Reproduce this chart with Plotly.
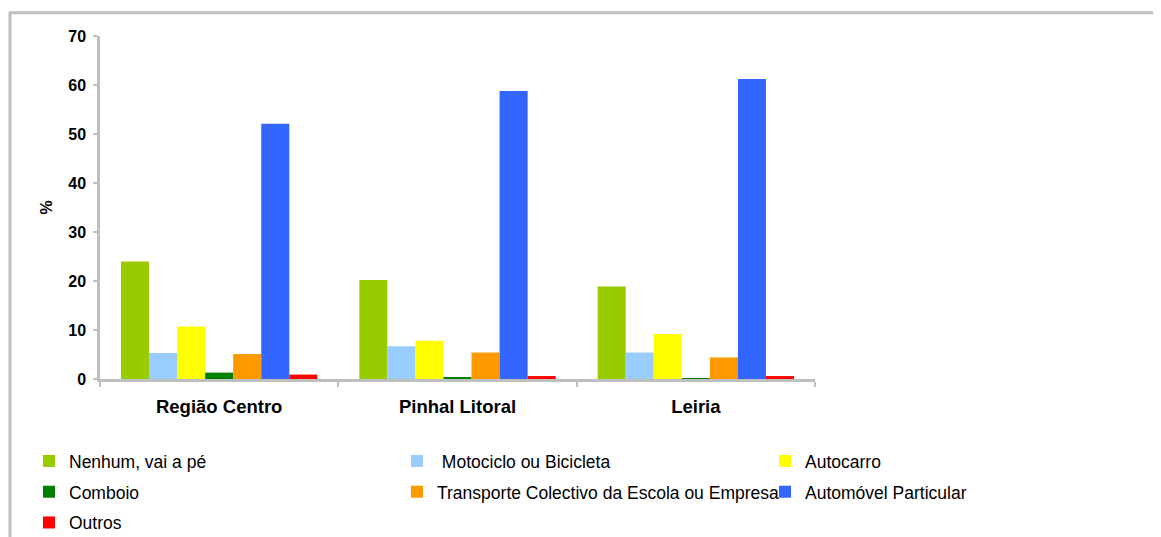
import plotly.graph_objects as go

categories = ["Região Centro", "Pinhal Litoral", "Leiria"]
series_names = [
    "Nenhum, vai a pé",
    " Motociclo ou Bicicleta",
    "Autocarro",
    "Comboio",
    "Transporte Colectivo da Escola ou Empresa",
    "Automóvel Particular",
    "Outros",
]
nenhum = [24.0, 20.2, 18.9]
motociclo = [5.3, 6.7, 5.4]
autocarro = [10.7, 7.8, 9.2]
comboio = [1.3, 0.3, 0.1]
transporte = [5.1, 5.4, 4.4]
automovel = [52.1, 58.8, 61.2]
outros = [0.9, 0.6, 0.6]
values = [nenhum, motociclo, autocarro, comboio, transporte, automovel, outros]
colors = ["#99CC00", "#99CCFF", "#FFFF00", "#008000", "#FF9900", "#3366FF", "#FF0000"]
legend_ids = ["legend", "legend2", "legend3", "legend", "legend2", "legend3", "legend"]
y_ticks = [0, 10, 20, 30, 40, 50, 60, 70]

FONT = "Arial, Liberation Sans, sans-serif"
fig = go.Figure()
for i, (name, vals, col, lg) in enumerate(zip(series_names, values, colors, legend_ids)):
    fig.add_trace(go.Bar(
        x=categories, y=vals, name=name, marker_color=col,
        marker_line_width=0, legend=lg, legendgroup=f"g{i}",
    ))

OFF = 8  # page body margin
W, H = 1161 - OFF, 537 - OFF
# plot area in page pixels: x 100..815, y 35.7..379.3
L = 100 - OFF
T = 35.7 - OFF
R = W - (815 - OFF)
B = H - (379.3 - OFF)
pw, ph = W - L - R, H - T - B

def px_x(p):  # page px -> paper
    return (p - OFF - L) / pw

def px_y(p):
    return (H - B - (p - OFF)) / ph

leg_common = dict(
    orientation="v", yanchor="top", xanchor="left",
    font=dict(family=FONT, size=17.5, color="#000000"),
    bgcolor="rgba(0,0,0,0)", tracegroupgap=5, itemwidth=30,
)
ly = px_y(443.5)
fig.update_layout(
    width=W, height=H,
    margin=dict(l=L, r=R, t=T, b=B, pad=0, autoexpand=False),
    paper_bgcolor="white", plot_bgcolor="white",
    barmode="group", bargap=0.176, bargroupgap=0,
    font=dict(family=FONT, color="#000000"),
    legend=dict(x=px_x(29), y=ly, **leg_common),
    legend2=dict(x=px_x(397), y=ly, **leg_common),
    legend3=dict(x=px_x(765), y=ly, **leg_common),
    xaxis=dict(
        type="category", showline=True, linecolor="#BFBFBF", linewidth=2.5,
        ticks="outside", tickson="boundaries", ticklen=5, tickcolor="#BFBFBF", tickwidth=2,
        tickfont=dict(family=FONT, size=18.5, color="#000000", weight="bold"),
        ticklabelstandoff=9, showgrid=False, zeroline=False,
    ),
    yaxis=dict(
        range=[0, 70], tickvals=y_ticks, showline=True, linecolor="#BFBFBF", linewidth=2.5,
        ticks="outside", ticklen=4, tickcolor="#BFBFBF", tickwidth=2,
        tickfont=dict(family=FONT, size=16, color="#000000", weight="bold"),
        ticklabelstandoff=4, showgrid=False, zeroline=False,
        title=dict(text="%", font=dict(family=FONT, size=16, color="#000000", weight="bold"), standoff=12),
    ),
    shapes=[dict(
        type="rect", xref="paper", yref="paper",
        x0=px_x(10), x1=px_x(1161 + 50), y0=px_y(12.5), y1=px_y(537 + 50),
        line=dict(color="#C0C0C0", width=3), fillcolor="rgba(0,0,0,0)", layer="below",
    )],
)
fig.write_html("out.html")
